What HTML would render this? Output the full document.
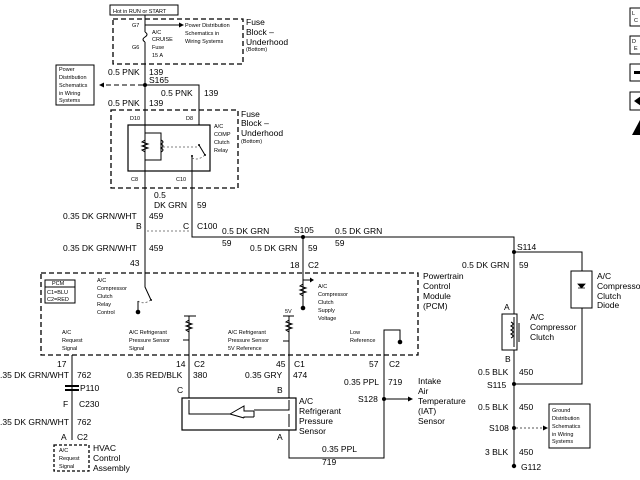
<!DOCTYPE html>
<html><head><meta charset="utf-8"><style>
html,body{margin:0;padding:0;background:#fff}
svg{display:block}
text{font-family:"Liberation Sans",sans-serif;fill:#000}
.s{font-size:5.5px}
.m{font-size:8.5px}
.w{stroke:#000;stroke-width:1;fill:none}
.d{stroke:#000;stroke-width:1.3;fill:none;stroke-dasharray:5,3}
.dl{stroke:#555;stroke-width:0.8;fill:none;stroke-dasharray:2,2}
</style></head><body>
<svg width="640" height="480" viewBox="0 0 640 480" xmlns="http://www.w3.org/2000/svg">
<!-- top -->
<rect x="110" y="5" width="68" height="10" fill="#fff" stroke="#000"/>
<text x="113" y="13" class="s">Hot in RUN or START</text>
<rect x="113" y="19" width="130" height="45" class="d"/>
<text x="246" y="25" class="m">Fuse</text><text x="246" y="35" class="m">Block –</text><text x="246" y="45" class="m">Underhood</text><text x="246" y="51" class="s">(Bottom)</text>
<path d="M145 15 V32 M145 42 V237" class="w"/>
<path d="M145 32 q4 2.5 0 5 q-4 2.5 0 5" class="w"/>
<text x="132" y="27" class="s">G7</text><text x="132" y="49" class="s">G6</text>
<path d="M145 25 H180" class="w"/><path d="M179 22.5 L184 25 L179 27.5Z"/>
<text x="185" y="27" class="s">Power Distribution</text><text x="185" y="35" class="s">Schematics in</text><text x="185" y="43" class="s">Wiring Systems</text>
<text x="152" y="34" class="s">A/C</text><text x="152" y="41" class="s">CRUISE</text><text x="152" y="49" class="s">Fuse</text><text x="152" y="57" class="s">15 A</text>
<text x="108" y="75" class="m">0.5 PNK</text><text x="149" y="75" class="m">139</text><text x="149" y="83" class="m">S165</text>
<circle cx="145" cy="85" r="2"/>
<path d="M143 85 H104" class="d" style="stroke-width:0.9"/><path d="M104 82.5 L99 85 L104 87.5Z"/>
<rect x="56" y="65" width="38" height="40" fill="#fff" stroke="#000"/>
<text x="59" y="71" class="s">Power</text><text x="59" y="79" class="s">Distribution</text><text x="59" y="87" class="s">Schematics</text><text x="59" y="95" class="s">in Wiring</text><text x="59" y="102" class="s">Systems</text>
<path d="M145 85 H199 V171" class="w"/>
<text x="161" y="96" class="m">0.5 PNK</text><text x="204" y="96" class="m">139</text>
<text x="108" y="106" class="m">0.5 PNK</text><text x="149" y="106" class="m">139</text>
<rect x="111" y="110" width="127" height="78" class="d"/>
<text x="241" y="117" class="m">Fuse</text><text x="241" y="126" class="m">Block –</text><text x="241" y="136" class="m">Underhood</text><text x="241" y="143" class="s">(Bottom)</text>
<text x="130" y="120" class="s">D10</text><text x="186" y="120" class="s">D8</text>
<rect x="128" y="125" width="82" height="46" fill="#fff" stroke="#000" stroke-width="1.2"/>
<path d="M145 120 V182 M192 155 V182" class="w"/>
<path d="M145 133 H161 V160 H145" class="w"/>
<path d="M145 140 l-3 2 6 2 -6 2 6 2 -6 2 3 2" class="w"/>
<path d="M161 140 q4 2 0 4 q4 2 0 4 q4 2 0 4" class="w"/>
<path d="M163 147 H197" class="dl"/>
<path d="M199 145 L205 155" class="w"/><circle cx="199" cy="145" r="1"/><circle cx="205" cy="155" r="1"/>
<path d="M192 158 q6 3 13 -3" class="dl"/><circle cx="192" cy="156" r="1"/>
<text x="214" y="128" class="s">A/C</text><text x="214" y="136" class="s">COMP</text><text x="214" y="144" class="s">Clutch</text><text x="214" y="152" class="s">Relay</text>
<text x="131" y="181" class="s">C8</text><text x="176" y="181" class="s">C10</text>
<text x="154" y="198" class="m">0.5</text><text x="154" y="208" class="m">DK GRN</text><text x="197" y="208" class="m">59</text>
<text x="63" y="219" class="m">0.35 DK GRN/WHT</text><text x="149" y="219" class="m">459</text>
<text x="136" y="229" class="m">B</text><text x="183" y="229" class="m">C</text><text x="197" y="229" class="m">C100</text>
<path d="M147 231 H190" class="dl"/>
<path d="M192 182 V237 H514 V384" class="w"/>
<text x="222" y="234" class="m">0.5 DK GRN</text><text x="222" y="246" class="m">59</text>
<circle cx="303" cy="237" r="2"/><text x="294" y="233" class="m">S105</text>
<path d="M303 237 V273 M145 237 V273" class="w"/>
<text x="335" y="234" class="m">0.5 DK GRN</text><text x="335" y="246" class="m">59</text>
<text x="63" y="251" class="m">0.35 DK GRN/WHT</text><text x="149" y="251" class="m">459</text>
<text x="250" y="251" class="m">0.5 DK GRN</text><text x="308" y="251" class="m">59</text>
<text x="130" y="266" class="m">43</text><text x="290" y="268" class="m">18</text><text x="308" y="268" class="m">C2</text>
<!-- right side -->
<circle cx="514" cy="252" r="2"/><text x="517" y="250" class="m">S114</text>
<path d="M514 252 H582 V384 H514" class="w"/>
<rect x="571" y="271" width="21" height="37" fill="#fff" stroke="#000"/>
<path d="M578 288 H585 M578 284 L585 284 L581.5 288Z" stroke="#000" stroke-width="0.8"/>
<text x="597" y="279" class="m">A/C</text><text x="597" y="289" class="m">Compressor</text><text x="597" y="299" class="m">Clutch</text><text x="597" y="308" class="m">Diode</text>
<text x="462" y="268" class="m">0.5 DK GRN</text><text x="519" y="268" class="m">59</text>
<text x="504" y="310" class="m">A</text>
<rect x="502" y="314" width="15" height="36" fill="#fff" stroke="#000"/>
<path d="M514 317 V347 M511 322 q4 2 0 4 q4 2 0 4 q4 2 0 4 q4 2 0 4 M519 323 V342" class="w" stroke-width="0.8"/>
<text x="530" y="320" class="m">A/C</text><text x="530" y="330" class="m">Compressor</text><text x="530" y="340" class="m">Clutch</text>
<text x="505" y="362" class="m">B</text>
<text x="478" y="375" class="m">0.5 BLK</text><text x="519" y="375" class="m">450</text>
<circle cx="514" cy="384" r="2"/><text x="487" y="388" class="m">S115</text>
<path d="M514 384 V466" class="w"/>
<text x="478" y="410" class="m">0.5 BLK</text><text x="519" y="410" class="m">450</text>
<circle cx="514" cy="428" r="2"/><text x="489" y="431" class="m">S108</text>
<path d="M516 428 H543" class="dl" style="stroke-width:1"/><path d="M543 425.5 L548 428 L543 430.5Z"/>
<rect x="549" y="404" width="41" height="44" fill="#fff" stroke="#000"/>
<text x="552" y="412" class="s">Ground</text><text x="552" y="420" class="s">Distribution</text><text x="552" y="428" class="s">Schematics</text><text x="552" y="436" class="s">in Wiring</text><text x="552" y="443" class="s">Systems</text>
<text x="485" y="455" class="m">3 BLK</text><text x="519" y="455" class="m">450</text>
<circle cx="514" cy="466" r="2.2"/><text x="521" y="470" class="m">G112</text>
<!-- PCM -->
<rect x="41" y="273" width="377" height="82" class="d"/>
<text x="423" y="279" class="m">Powertrain</text><text x="423" y="289" class="m">Control</text><text x="423" y="299" class="m">Module</text><text x="423" y="309" class="m">(PCM)</text>
<rect x="45" y="280" width="30" height="23" fill="#fff" stroke="#000"/>
<path d="M45 287 H75" class="w"/>
<text x="52" y="285" class="s">PCM</text><text x="47" y="294" class="s">C1=BLU</text><text x="47" y="301" class="s">C2=RED</text>
<text x="97" y="282" class="s">A/C</text><text x="97" y="290" class="s">Compressor</text><text x="97" y="298" class="s">Clutch</text><text x="97" y="306" class="s">Relay</text><text x="97" y="314" class="s">Control</text>
<path d="M145 273 V287 L151 300" class="w"/><circle cx="151" cy="300" r="1"/>
<path d="M138 301 q5 4 13 -1" class="dl"/><path d="M138 301 V310" class="w"/><circle cx="138" cy="312" r="2.3"/>
<path d="M303 273 V306 M303 280 H310" class="w"/><path d="M310 277.5 L314 280 L310 282.5Z"/>
<path d="M303 284 l-3 2 6 2 -6 2 6 2 -6 2 3 2" class="w"/><circle cx="303" cy="308" r="2.3"/>
<text x="318" y="288" class="s">A/C</text><text x="318" y="296" class="s">Compressor</text><text x="318" y="304" class="s">Clutch</text><text x="318" y="312" class="s">Supply</text><text x="318" y="320" class="s">Voltage</text>
<text x="62" y="334" class="s">A/C</text><text x="62" y="342" class="s">Request</text><text x="62" y="350" class="s">Signal</text>
<path d="M184 316 H196 M189 316 V355 M189 340 H183" class="w"/><path d="M189 320 l-3 2 6 2 -6 2 6 2 -6 2 3 2" class="w"/>
<text x="129" y="334" class="s">A/C Refrigerant</text><text x="129" y="342" class="s">Pressure Sensor</text><text x="129" y="350" class="s">Signal</text>
<text x="285" y="313" class="s">5V</text>
<path d="M283 316 H294 M289 316 V355 M289 341 H283" class="w"/><path d="M289 320 l-3 2 6 2 -6 2 6 2 -6 2 3 2" class="w"/>
<text x="228" y="334" class="s">A/C Refrigerant</text><text x="228" y="342" class="s">Pressure Sensor</text><text x="228" y="350" class="s">5V Reference</text>
<text x="350" y="334" class="s">Low</text><text x="350" y="342" class="s">Reference</text>
<path d="M384 355 V330 H400 V340" class="w"/><circle cx="400" cy="342" r="2.3"/>
<!-- bottom left -->
<path d="M72 355 V440" class="w"/>
<text x="57" y="367" class="m">17</text>
<text x="0" y="378" class="m">.35 DK GRN/WHT</text><text x="77" y="378" class="m">762</text>
<rect x="65" y="385" width="14" height="2" fill="#000"/><rect x="65" y="389" width="14" height="2" fill="#000"/>
<text x="80" y="391" class="m">P110</text>
<text x="63" y="407" class="m">F</text><text x="79" y="407" class="m">C230</text>
<text x="0" y="425" class="m">.35 DK GRN/WHT</text><text x="77" y="425" class="m">762</text>
<text x="61" y="440" class="m">A</text><text x="77" y="440" class="m">C2</text>
<rect x="54" y="445" width="35" height="26" class="d" style="stroke-dasharray:3,2"/>
<text x="59" y="452" class="s">A/C</text><text x="59" y="460" class="s">Request</text><text x="59" y="468" class="s">Signal</text>
<text x="93" y="451" class="m">HVAC</text><text x="93" y="461" class="m">Control</text><text x="93" y="471" class="m">Assembly</text>
<!-- sensor -->
<path d="M189 355 V398 M289 355 V398 M289 430 V458 H384 V355" class="w"/>
<text x="176" y="367" class="m">14</text><text x="194" y="367" class="m">C2</text>
<text x="127" y="378" class="m">0.35 RED/BLK</text><text x="193" y="378" class="m">380</text>
<text x="276" y="367" class="m">45</text><text x="294" y="367" class="m">C1</text>
<text x="245" y="378" class="m">0.35 GRY</text><text x="293" y="378" class="m">474</text>
<text x="177" y="393" class="m">C</text><text x="277" y="393" class="m">B</text>
<rect x="182" y="398" width="114" height="32" fill="#fff" stroke="#000" stroke-width="1.2"/>
<path d="M189 400 V414 H230 M289 400 V410 H254 M289 414 V427" class="w"/>
<path d="M230 414 L244 406 L244 411 L254 411 M244 418 L230 414 M244 418 L244 417 L254 417 M254 411 V417" class="w" stroke-width="0.8"/>
<text x="299" y="404" class="m">A/C</text><text x="299" y="414" class="m">Refrigerant</text><text x="299" y="424" class="m">Pressure</text><text x="299" y="434" class="m">Sensor</text>
<text x="277" y="440" class="m">A</text>
<text x="322" y="452" class="m">0.35 PPL</text><text x="322" y="465" class="m">719</text>
<text x="369" y="367" class="m">57</text><text x="389" y="367" class="m">C2</text>
<text x="344" y="385" class="m">0.35 PPL</text><text x="388" y="385" class="m">719</text>
<circle cx="384" cy="399" r="2"/><text x="358" y="402" class="m">S128</text>
<path d="M384 399 H408" class="w"/><path d="M408 396.5 L413 399 L408 401.5Z"/>
<text x="418" y="384" class="m">Intake</text><text x="418" y="394" class="m">Air</text><text x="418" y="404" class="m">Temperature</text><text x="418" y="414" class="m">(IAT)</text><text x="418" y="424" class="m">Sensor</text>
<!-- icons -->
<rect x="630" y="8" width="14" height="18" fill="#fff" stroke="#000"/><text x="632" y="15" class="s">L</text><text x="634" y="22" class="s">C</text>
<rect x="630" y="36" width="14" height="18" fill="#fff" stroke="#000"/><text x="632" y="43" class="s">D</text><text x="634" y="50" class="s">E</text>
<rect x="630" y="64" width="14" height="17" fill="#fff" stroke="#000"/><rect x="634" y="71" width="8" height="3"/>
<rect x="630" y="92" width="14" height="18" fill="#fff" stroke="#000"/><path d="M634 101 L641 96 L641 106Z"/>
<path d="M632 135 L640 120 L640 135Z"/>
</svg>
</body></html>
